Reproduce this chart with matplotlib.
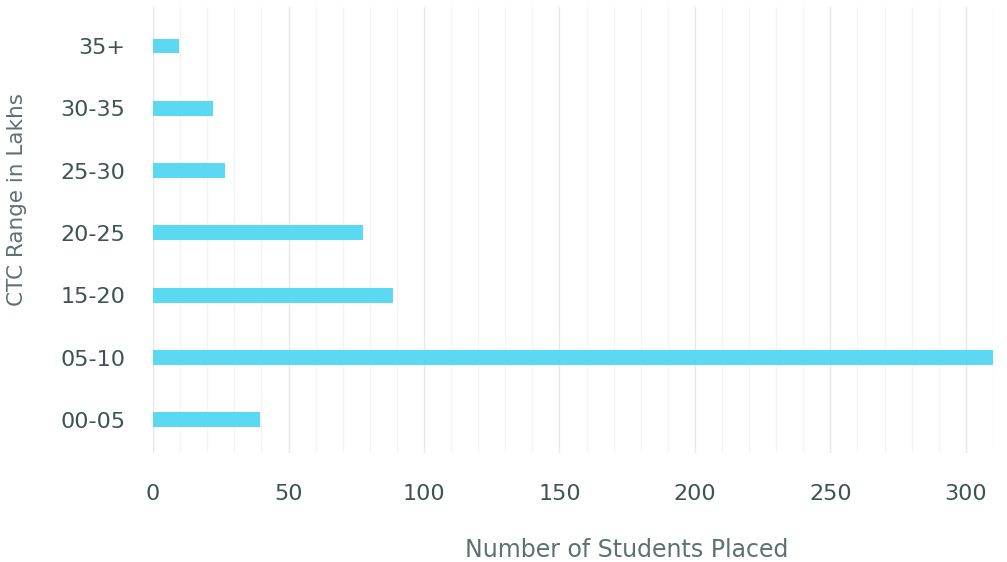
import numpy as np
import matplotlib.pyplot as plt

ranges = ['00-05', '05-10', '15-20', '20-25', '25-30', '30-35', '35+']
students = [39.5, 310, 88.5, 77.5, 26.5, 22, 9.5]

plt.rcParams['font.family'] = ['DejaVu Sans']

fig = plt.figure(figsize=(10.07, 5.62), dpi=100)
ax = fig.add_axes([0.152, 0.194, 0.834, 0.794])

pos = np.arange(len(ranges))
ax.barh(pos, students, height=0.24, color='#5bd9f3', zorder=3)

ax.set_xlim(0, 310)
ax.set_ylim(-0.53, 6.63)
ax.set_xticks(np.arange(0, 301, 50))
ax.set_xticks(np.arange(0, 311, 10), minor=True)
ax.set_yticks(pos)
ax.set_yticklabels(ranges)

# faint vertical grid, darker every 50
ax.grid(axis='x', which='major', color='#e6e9eb', linewidth=1.0, zorder=0)
ax.grid(axis='x', which='minor', color='#f3f4f5', linewidth=0.9, zorder=0)
for s in ax.spines.values():
    s.set_visible(False)
ax.axvline(0, color='#e6e9eb', linewidth=1.0, zorder=1)

ax.tick_params(axis='both', which='both', length=0, labelsize=16, labelcolor='#3e5352')
ax.tick_params(axis='y', pad=20)
ax.tick_params(axis='x', pad=22)

ax.set_xlabel('Number of Students Placed', fontsize=17, color='#5e7072')
ax.xaxis.set_label_coords(0.564, -0.19)
ax.set_ylabel('CTC Range in Lakhs', fontsize=15.5, color='#5e7072')
ax.yaxis.set_label_coords(-0.15, 0.567)

fig.savefig('out.png', dpi=100)
